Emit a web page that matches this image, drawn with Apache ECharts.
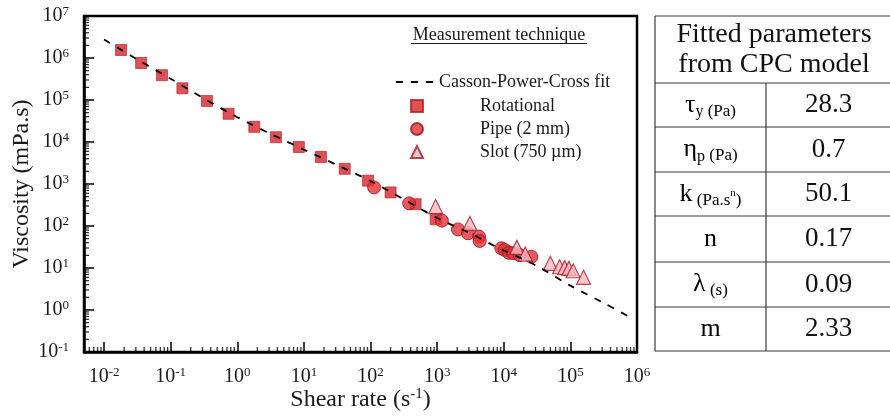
<!DOCTYPE html>
<html>
<head>
<meta charset="utf-8">
<script src="https://cdn.jsdelivr.net/npm/echarts@6/dist/echarts.min.js"></script>
<style>
  html, body { margin: 0; padding: 0; background: #fff; }
  #chart { width: 890px; height: 417px; }
</style>
</head>
<body>
<div id="chart"></div>
<script>
// Rotational rheometer
const rotX = [0.018, 0.036, 0.074, 0.15, 0.35, 0.74, 1.8, 3.8, 8.4, 18, 41, 92, 200, 475, 950];
const rotY = [1.55e6, 7.6e5, 3.9e5, 1.9e5, 9.5e4, 4.7e4, 2.3e4, 1.3e4, 7600, 4400, 2300, 1200, 630, 330, 145];

// Pipe viscometer (2 mm)
const pipeX = [113, 380, 1180, 2050, 2900, 4250, 4350, 9200, 10300, 12000, 13800, 17300, 26000];
const pipeY = [830, 347, 134, 83, 67, 56, 44, 29.5, 27, 23, 22.6, 20.4, 18.5];

// Slot viscometer (750 µm)
const slotX = [950, 3100, 15700, 21000, 50000, 69000, 82000, 95000, 110000, 158000];
const slotY = [290, 115, 31, 21.5, 12.9, 10.7, 10.2, 9.8, 8.6, 6.0];

// Casson-Power-Cross fit curve
const fitX = [0.01, 0.032, 0.1, 0.32, 1, 3.2, 10, 32, 100, 320, 1000, 3200, 7700, 32000, 1e5, 3.2e5, 7.8e5];
const fitY = [2.75e6, 9.1e5, 3.2e5, 1.07e5, 3.9e4, 1.55e4, 6600, 2800, 1175, 427, 155, 66, 32, 11, 3.8, 1.45, 0.68];

// Fitted parameter table
const paramLabels = [
  '{g|τ}{sub|y}{u| (Pa)}',
  '{g|η}{sub|p}{u| (Pa)}',
  '{g|k}{u| (Pa.s}{sup|n}{u|)}',
  '{g|n}',
  '{g|λ}{u| (s)}',
  '{g|m}'
];
const paramValues = ['28.3', '0.7', '50.1', '0.17', '0.09', '2.33'];

const seriesNames = ['Casson-Power-Cross fit', 'Rotational', 'Pipe (2 mm)', 'Slot (750 µm)'];

const X_MIN = 0.005, X_MAX = 1e6;
const Y_MIN = 0.1, Y_MAX = 1e7;

const SERIF = '"Liberation Serif", "Times New Roman", serif';

const zip = (xs, ys) => xs.map((x, i) => [x, ys[i]]);

// 2..9 x 10^k minor tick positions inside [lo, hi]
function minorValues(lo, hi) {
  const out = [];
  for (let k = Math.floor(Math.log10(lo)); k <= Math.ceil(Math.log10(hi)); k++) {
    for (let m = 2; m <= 9; m++) {
      const v = m * Math.pow(10, k);
      if (v >= lo * 0.999 && v <= hi * 1.001) out.push(v);
    }
  }
  return out;
}

function powLabel(v) {
  const e = Math.log10(v);
  const r = Math.round(e);
  if (Math.abs(e - r) > 1e-6) return '';
  return '{b|10}{s|' + r + '}';
}

const labelRich = {
  b: { fontFamily: SERIF, fontSize: 20, color: '#1a1a1a', lineHeight: 22 },
  s: { fontFamily: SERIF, fontSize: 13, color: '#1a1a1a', lineHeight: 13, verticalAlign: 'top' }
};

function axisBase(margin) {
  return {
    type: 'log',
    logBase: 10,
    axisLine: { lineStyle: { color: '#000', width: 2.5 } },
    axisTick: { show: true, inside: true, length: 10, lineStyle: { color: '#000', width: 1.5 } },
    splitLine: { show: false },
    axisLabel: { formatter: powLabel, rich: labelRich, margin: margin }
  };
}

// Table geometry
const TB = { x0: 655, xMid: 766, x1: 893, top: 16, rows: [83, 127, 172, 216, 262, 307, 351] };
const lineColor = '#3a3a3a';
const tableGraphics = [];
const hLine = (y, xa, xb) => ({ type: 'line', shape: { x1: xa, y1: y, x2: xb, y2: y }, style: { stroke: lineColor, lineWidth: 1.2 }, z: 10 });
const vLine = (x, ya, yb) => ({ type: 'line', shape: { x1: x, y1: ya, x2: x, y2: yb }, style: { stroke: lineColor, lineWidth: 1.2 }, z: 10 });
tableGraphics.push(hLine(TB.top, TB.x0, TB.x1));
TB.rows.forEach(y => tableGraphics.push(hLine(y, TB.x0, TB.x1)));
tableGraphics.push(vLine(TB.x0, TB.top, TB.rows[TB.rows.length - 1]));
tableGraphics.push(vLine(TB.xMid, TB.rows[0], TB.rows[TB.rows.length - 1]));
const headerCx = (TB.x0 + TB.x1) / 2;
['Fitted parameters', 'from CPC model'].forEach((t, i) => {
  tableGraphics.push({
    type: 'text', z: 10,
    style: { text: t, x: headerCx, y: 35 + i * 30, fill: '#111', font: '28px ' + SERIF, align: 'center', verticalAlign: 'middle' }
  });
});
const cellRich = {
  g: { fontFamily: SERIF, fontSize: 26, color: '#111', lineHeight: 30 },
  sub: { fontFamily: SERIF, fontSize: 16, color: '#111', lineHeight: 16, verticalAlign: 'bottom' },
  sup: { fontFamily: SERIF, fontSize: 11, color: '#111', lineHeight: 11, verticalAlign: 'top', padding: [9, 0, 0, 0] },
  u: { fontFamily: SERIF, fontSize: 17, color: '#111', lineHeight: 24, verticalAlign: 'bottom' }
};
paramLabels.forEach((lab, i) => {
  const cy = (TB.rows[i] + TB.rows[i + 1]) / 2;
  tableGraphics.push({
    type: 'text', z: 10,
    style: { text: lab, rich: cellRich, x: (TB.x0 + TB.xMid) / 2, y: cy, align: 'center', verticalAlign: 'middle' }
  });
  tableGraphics.push({
    type: 'text', z: 10,
    style: { text: paramValues[i], x: (TB.xMid + TB.x1) / 2 - 1, y: cy, fill: '#111', font: '27px ' + SERIF, align: 'center', verticalAlign: 'middle' }
  });
});

const chart = echarts.init(document.getElementById('chart'), null, { renderer: 'canvas' });

chart.setOption({
  backgroundColor: '#fff',
  animation: false,
  grid: {
    left: 84, right: 253, top: 16, bottom: 65,
    containLabel: false, outerBoundsMode: 'none',
    show: true, borderColor: '#000', borderWidth: 2.5, backgroundColor: 'transparent'
  },
  xAxis: Object.assign(axisBase(14), {
    min: X_MIN, max: X_MAX,
    name: '{t|Shear rate (s}{ts|-1}{t|)}',
    nameLocation: 'middle', nameGap: 35, nameMoveOverlap: false,
    nameTextStyle: {
      rich: {
        t: { fontFamily: SERIF, fontSize: 24, color: '#1a1a1a', lineHeight: 26 },
        ts: { fontFamily: SERIF, fontSize: 15, color: '#1a1a1a', lineHeight: 15, verticalAlign: 'top' }
      }
    }
  }),
  yAxis: Object.assign(axisBase(15), {
    min: Y_MIN, max: Y_MAX,
    name: 'Viscosity (mPa.s)',
    nameLocation: 'middle', nameGap: 50, nameRotate: 90, nameMoveOverlap: false,
    nameTextStyle: { fontFamily: SERIF, fontSize: 24, color: '#1a1a1a' }
  }),
  legend: [
    {
      data: [seriesNames[0]],
      left: 395, top: 73, padding: 0,
      itemWidth: 38, itemHeight: 10,
      selectedMode: false,
      itemStyle: { opacity: 0 },
      textStyle: { fontFamily: SERIF, fontSize: 18, color: '#1a1a1a' }
    },
    {
      data: seriesNames.slice(1),
      orient: 'vertical',
      left: 410, top: 97, padding: 0,
      itemWidth: 12, itemHeight: 12, itemGap: 5,
      selectedMode: false,
      textStyle: { fontFamily: SERIF, fontSize: 18, color: '#1a1a1a', lineHeight: 18, padding: [0, 0, 0, 52] }
    }
  ],
  graphic: [
    { type: 'text', z: 10, style: { text: 'Measurement technique', x: 499, y: 35, fill: '#1a1a1a', font: '18px ' + SERIF, align: 'center', verticalAlign: 'middle' } },
    { type: 'line', z: 10, shape: { x1: 411, y1: 43.5, x2: 587, y2: 43.5 }, style: { stroke: '#1a1a1a', lineWidth: 1 } }
  ].concat(tableGraphics),
  series: [
    {
      name: 'xMinor', type: 'scatter', silent: true, clip: false, z: 1,
      data: minorValues(X_MIN, X_MAX).map(v => [v, Y_MIN]),
      symbol: 'rect', symbolSize: [1.3, 5], symbolOffset: [0, -2.5],
      itemStyle: { color: '#000' }
    },
    {
      name: 'yMinor', type: 'scatter', silent: true, clip: false, z: 1,
      data: minorValues(Y_MIN, Y_MAX).map(v => [X_MIN, v]),
      symbol: 'rect', symbolSize: [5, 1.3], symbolOffset: [2.5, 0],
      itemStyle: { color: '#000' }
    },
    {
      name: seriesNames[1], type: 'scatter', z: 3,
      data: zip(rotX, rotY),
      symbol: 'rect', symbolSize: 11,
      itemStyle: { color: '#d4262d', borderColor: '#b01c22', borderWidth: 0.8 }
    },
    {
      name: seriesNames[2], type: 'scatter', z: 4,
      data: zip(pipeX, pipeY),
      symbol: 'circle', symbolSize: 13,
      itemStyle: { color: '#e32f36', borderColor: '#8e1a1e', borderWidth: 1 }
    },
    {
      name: seriesNames[3], type: 'scatter', z: 5,
      data: zip(slotX, slotY),
      symbol: 'triangle', symbolSize: 14,
      itemStyle: { color: '#f6b9bf', borderColor: '#a11d2b', borderWidth: 1.2 }
    },
    {
      name: seriesNames[0], type: 'line', z: 6,
      data: zip(fitX, fitY),
      symbol: 'none', smooth: 0.3,
      itemStyle: { color: '#000' },
      lineStyle: { color: '#000', width: 1.8, type: [7, 8] }
    }
  ]
});
</script>
</body>
</html>
